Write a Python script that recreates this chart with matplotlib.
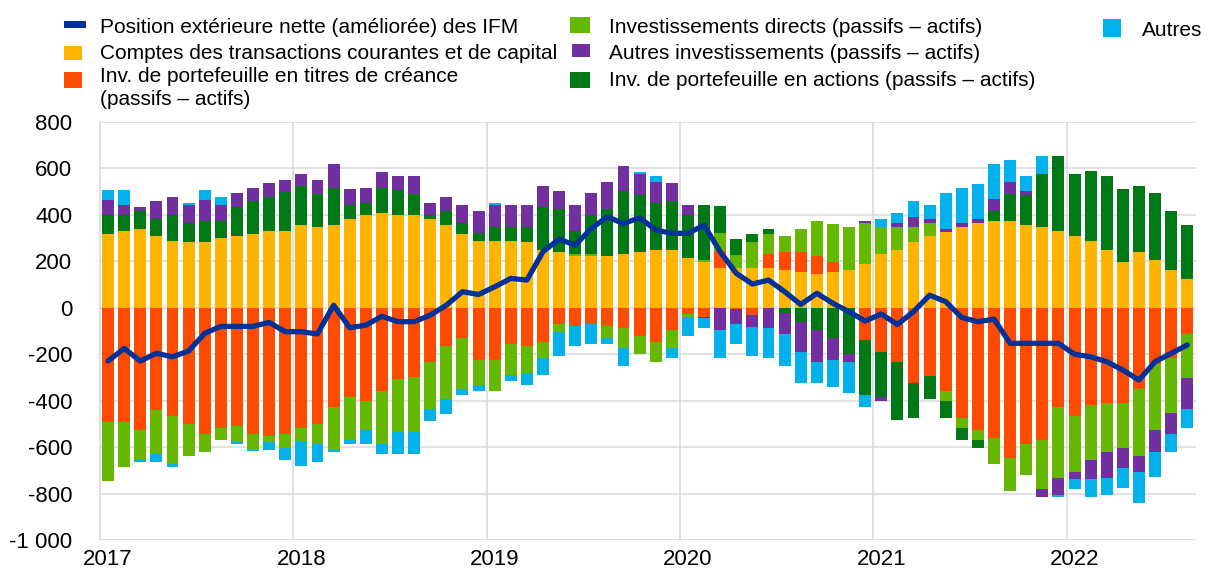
import numpy as np
import matplotlib
matplotlib.use("Agg")
import matplotlib.pyplot as plt
from matplotlib.patches import Rectangle

plt.rcParams["font.family"] = ["Liberation Sans", "DejaVu Sans"]

# monthly data, Jan 2017 - Aug 2022 (EUR bn)
years = ["2017", "2018", "2019", "2020", "2021", "2022"]

current_account = [
    315, 331, 340, 307, 289, 281, 281, 298, 307, 315, 331, 331,
    357, 348, 357, 383, 398, 407, 398, 398, 383, 357, 315, 289,
    289, 289, 281, 248, 239, 222, 222, 222, 231, 239, 248, 248,
    213, 198, 172, 169, 169, 172, 162, 155, 145, 155, 162, 188,
    231, 248, 281, 307, 324, 348, 365, 374, 374, 357, 348, 331,
    307, 289, 248, 198, 239, 205, 162, 122,
]
portfolio_debt = [
    -493, -493, -527, -441, -467, -501, -544, -519, -510, -544, -552, -544,
    -519, -501, -427, -384, -401, -358, -308, -299, -232, -165, -132, -225,
    -225, -158, -165, -149, -72, -80, -72, -80, -89, -123, -149, -97,
    -29, -39, 72, -5, -32, 57, 76, 83, 76, 42, 0, -140,
    -192, -232, -325, -292, -358, -476, -527, -562, -645, -587, -569, -426,
    -467, -418, -410, -410, -351, -241, -215, -115,
]
direct_inv = [
    -252, -193, -128, -188, -203, -136, -75, -50, -69, -67, -27, -57,
    -52, -86, -185, -185, -126, -229, -228, -236, -204, -228, -218, -107,
    -133, -132, -117, -69, -34, 9, 9, -52, -86, -75, -83, -77,
    -9, 7, 77, 59, 112, 86, 69, 102, 152, 161, 186, 177,
    117, 100, 67, 59, -43, -43, -43, -109, -143, -133, -211, -304,
    -238, -236, -211, -195, -287, -286, -236, -186,
]
portfolio_equity = [
    83, 67, 76, 76, 110, 85, 93, 76, 126, 143, 145, 168,
    168, 143, 159, 59, 52, 109, 110, 93, 16, 59, 50, 34,
    59, 59, 67, 185, 185, 100, 168, 202, 269, 244, 202, 211,
    184, 236, 117, 67, 34, 24, -21, -63, -97, -132, -201, -235,
    -192, -252, -150, -100, -75, -50, -32, 42, 117, 126, 226, 321,
    268, 301, 319, 311, 285, 287, 254, 235,
]
other_inv = [
    66, 43, 17, 76, 76, 76, 90, 67, 59, 59, 59, 50,
    50, 59, 102, 67, 67, 69, 59, 76, 52, 60, 76, 92,
    93, 93, 93, 92, 76, 109, 93, 118, 110, 92, 92, 76,
    43, -7, -96, -67, -49, -89, -93, -129, -135, -93, -32, 7,
    -17, 17, 43, 16, 16, 17, 16, 50, 50, 17, -33, -76,
    -33, -83, -109, -83, -67, -93, -93, -135,
]
others = [
    44, 67, -7, -33, -16, 7, 44, 34, -6, -7, -33, -53,
    -109, -75, -7, -19, -60, -42, -93, -93, -50, -66, -26, -26,
    9, -26, -50, -72, -100, -85, -86, -26, -75, 10, 26, -40,
    -85, -43, -119, -86, -126, -126, -135, -133, -93, -116, -135, -50,
    33, 42, 67, 60, 152, 152, 153, 152, 93, 67, 77, -7,
    -42, -75, -76, -85, -133, -109, -76, -83,
]
mfi_position = [
    -229, -175, -229, -196, -211, -186, -110, -80, -80, -80, -63, -103,
    -103, -113, 11, -86, -75, -37, -60, -60, -32, 11, 69, 57,
    90, 126, 119, 241, 295, 269, 341, 391, 362, 387, 334, 320,
    320, 355, 241, 148, 102, 119, 69, 14, 62, 19, -17, -57,
    -27, -72, -17, 54, 26, -42, -60, -49, -153, -153, -153, -153,
    -200, -211, -232, -268, -311, -232, -196, -160,
]

NAVY = "#003299"
series = [
    (current_account, "#FFB400"),
    (portfolio_debt, "#FF4B00"),
    (direct_inv, "#65B800"),
    (portfolio_equity, "#007816"),
    (other_inv, "#7030A0"),
    (others, "#00B1EA"),
]
GRID = "#d9d9d9"

fig = plt.figure(figsize=(12.08, 5.81), dpi=100)
ax = fig.add_axes([100 / 1208, 1 - 540.3 / 581, 1095.7 / 1208, 418.6 / 581])

n = len(current_account)
x = np.arange(n) + 0.5
pos_base = np.zeros(n)
neg_base = np.zeros(n)
for vals, col in series:
    v = np.array(vals, dtype=float)
    bottom = np.where(v >= 0, pos_base, neg_base)
    ax.bar(x, v, bottom=bottom, width=0.74, color=col, linewidth=0, zorder=3)
    pos_base += np.clip(v, 0, None)
    neg_base += np.clip(v, None, 0)

ax.plot(x, mfi_position, color=NAVY, lw=3.8, solid_joinstyle="round",
        solid_capstyle="round", zorder=5)

ax.set_xlim(0, 68.02)
ax.set_ylim(-1000, 800)
yt = np.arange(-1000, 801, 200)
ax.set_yticks(yt)
ax.set_yticklabels([f"{v:,}".replace(",", " ") for v in yt])
ax.grid(axis="y", color=GRID, lw=1.1, zorder=0)
for k in range(1, len(years)):
    ax.axvline(12 * k, color=GRID, lw=1.1, zorder=0)
ax.set_xticks([12 * k + 0.5 for k in range(len(years))])
ax.set_xticklabels(years)
ax.tick_params(length=0, labelsize=16, pad=6)
ax.tick_params(axis="y", pad=20)
for s in ["top", "right", "bottom"]:
    ax.spines[s].set_visible(False)
ax.spines["left"].set_color(GRID)
ax.spines["left"].set_linewidth(1.1)


def px(xp, yp):
    return xp / 1208, 1 - yp / 581


def marker(x0, y0, x1, y1, col):
    fx, fy = px(x0, y1)
    fig.patches.append(Rectangle((fx, fy), (x1 - x0) / 1208, (y1 - y0) / 581,
                                 transform=fig.transFigure, color=col, lw=0))


def label(xp, yp, txt):
    fig.text(*px(xp, yp), txt, fontsize=15, va="baseline", ha="left")


marker(64, 21, 86, 28, NAVY)
label(100, 33, "Position extérieure nette (améliorée) des IFM")
marker(64, 46, 82, 60, "#FFB400")
label(100, 59, "Comptes des transactions courantes et de capital")
marker(64, 72, 82, 88, "#FF4B00")
label(100, 82, "Inv. de portefeuille en titres de créance")
label(100, 105, "(passifs – actifs)")

marker(570, 17, 590, 33, "#65B800")
label(609, 33, "Investissements directs (passifs – actifs)")
marker(572, 44, 590, 57, "#7030A0")
label(609, 59, "Autres investissements (passifs – actifs)")
marker(570, 72, 590, 88, "#007816")
label(609, 86, "Inv. de portefeuille en actions (passifs – actifs)")

marker(1103, 19, 1121, 37, "#00B1EA")
label(1142, 36, "Autres")

fig.savefig("out.png", dpi=100)
